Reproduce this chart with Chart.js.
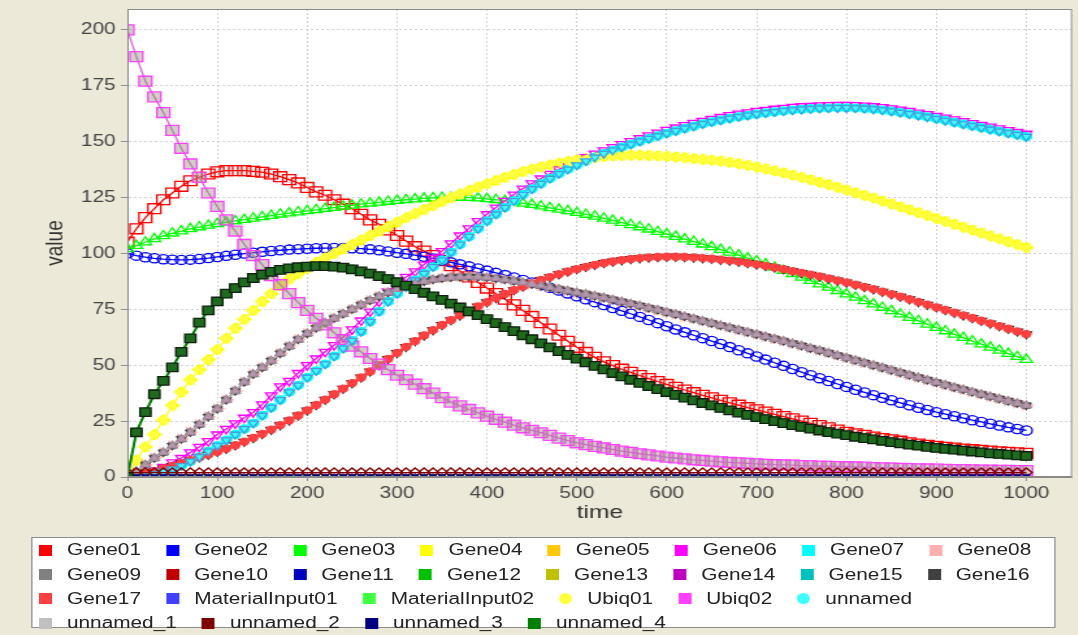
<!DOCTYPE html>
<html>
<head>
<meta charset="utf-8">
<script src="https://cdn.jsdelivr.net/npm/chart.js@4.4.0/dist/chart.umd.min.js"></script>
<style>
html, body { margin: 0; padding: 0; background: #ECE9D8; overflow: hidden; }
#stage { position: absolute; left: 0; top: 0; width: 833px; height: 635px; transform: scaleX(1.3); transform-origin: 0 0; }
#chart { position: absolute; left: 0; top: 0; }
#legend { position: absolute; left: 24px; top: 537px; width: 788px; height: 91px; box-sizing: border-box;
  background: #fff; border: 1px solid #8c8c8c; padding: 0 0 0 5px;
  display: flex; flex-wrap: wrap; align-content: flex-start; column-gap: 19.4px;
  font: 16px "Liberation Sans", Arial, sans-serif; color: #222; }
.item { display: flex; align-items: center; height: 24.4px; white-space: nowrap; }
.sw { width: 10px; height: 11px; margin-right: 11.5px; }
.sw.round { border-radius: 50%; }
</style>
</head>
<body>
<div id="stage">
  <canvas id="chart" width="833" height="530"></canvas>
  <div id="legend"></div>
</div>
<script>
// time points (every 10 units)
var time = [0,10,20,30,40,50,60,70,80,90,
  100,110,120,130,140,150,160,170,180,190,
  200,210,220,230,240,250,260,270,280,290,
  300,310,320,330,340,350,360,370,380,390,
  400,410,420,430,440,450,460,470,480,490,
  500,510,520,530,540,550,560,570,580,590,
  600,610,620,630,640,650,660,670,680,690,
  700,710,720,730,740,750,760,770,780,790,
  800,810,820,830,840,850,860,870,880,890,
  900,910,920,930,940,950,960,970,980,990,1000];

var gene01 = [105,111,116,120,124,127,130,132.5,134,135.5,
  136.5,137,137,137,136.7,136.3,135.5,134.3,133,131.5,
  129.5,127.5,126,124,122,120,117.5,115,113,110.5,
  108,105.5,103,101,99,96.8,94.5,92,89.5,87,
  84.5,82,79.5,77,74.5,71.8,69,66.2,63.4,60.7,
  58,55.7,53.5,51.5,49.8,48.2,46.8,45.4,44,42.7,
  41.4,40.1,38.9,37.7,36.5,35.4,34.3,33.2,32.1,31,
  30,29,28,27,26,25,24,23,22,21,
  20,19.3,18.6,17.9,17.2,16.6,16,15.3,14.7,14.2,
  13.7,13.3,12.9,12.5,12.2,11.9,11.6,11.3,11,10.8,10.6];

var gene02 = [100,99,98.3,97.8,97.4,97.2,97.1,97.2,97.5,97.9,
  98.4,98.9,99.4,99.9,100.3,100.7,101.1,101.4,101.7,101.9,
  102.1,102.3,102.4,102.4,102.4,102.3,102.1,101.8,101.4,100.9,
  100.3,99.8,99.2,98.5,97.7,96.9,96,95.1,94.2,93.3,
  92.3,91.3,90.3,89.2,88.1,87,85.8,84.6,83.4,82.1,
  80.8,79.5,78.2,76.9,75.6,74.3,73,71.6,70.2,68.8,
  67.4,66,64.7,63.4,62.1,60.8,59.5,58.1,56.7,55.3,
  53.9,52.5,51.1,49.7,48.3,46.9,45.5,44.2,42.9,41.6,
  40.3,39,37.8,36.6,35.4,34.3,33.2,32.1,31,30,
  29,28.1,27.2,26.3,25.4,24.6,23.8,23,22.2,21.5,20.8];

var gene03 = [102,103.5,105,106.5,107.8,109,110,111,111.8,112.5,
  113.2,113.9,114.5,115.1,115.7,116.3,116.9,117.5,118,118.5,
  119,119.5,120,120.5,121,121.5,122,122.4,122.8,123.2,
  123.6,124,124.3,124.6,124.8,125,125,125,124.9,124.7,
  124.4,124,123.5,123,122.4,121.8,121.1,120.4,119.7,119,
  118.2,117.4,116.6,115.7,114.8,113.8,112.8,111.8,110.8,109.7,
  108.6,107.5,106.4,105.3,104.1,102.9,101.7,100.5,99.2,97.9,
  96.6,95.2,93.8,92.3,90.8,89.3,87.8,86.3,84.8,83.3,
  81.8,80.3,78.8,77.3,75.8,74.3,72.8,71.3,69.8,68.3,
  66.8,65.3,63.8,62.3,60.8,59.4,58,56.6,55.2,53.8,52.5];

// Gene04 / Ubiq01 (thick yellow band)
var yellowCurve = [0,7.5,13.5,19,25.5,32,38,43.5,48,52.5,
  57,62,66.5,70.5,74.5,78.5,82,85.5,88.5,91,
  93.5,96,98,100,102,104,106,108,110,112,
  114,116,117.8,119.6,121.4,123.2,125,126.6,128.2,129.7,
  131.2,132.6,134,135.3,136.6,137.7,138.7,139.6,140.4,141.1,
  141.8,142.4,142.9,143.3,143.6,143.8,143.9,143.9,143.8,143.6,
  143.4,143.1,142.8,142.4,142,141.7,141.3,140.7,140.1,139.4,
  138.6,137.8,136.9,136,135,134,132.9,131.8,130.7,129.5,
  128.3,127.1,125.9,124.7,123.4,122.1,120.8,119.5,118.2,116.9,
  115.6,114.3,113,111.7,110.4,109.1,107.8,106.5,105.2,103.9,102.6];

// Gene06
var magentaCurve = [0,0.5,1.5,3,4.5,6.5,8.5,11,13.5,16,
  19,21.5,24,26.5,29,32.5,36.5,40.5,43,46.5,
  50,53,56,59,62.5,66,70,74,78.5,83,
  86.5,89.5,92,95,98,101,104.5,108,111.2,114.4,
  117.5,120.5,123.5,126.3,129,131.3,133.5,135.6,137.6,139.5,
  141.3,143,144.6,146.1,147.5,148.9,150.2,151.5,152.8,154,
  155.2,156.3,157.4,158.4,159.3,160.2,161,161.8,162.5,163.1,
  163.7,164.2,164.7,165.1,165.5,165.8,166,166.2,166.3,166.4,
  166.4,166.3,166.1,165.8,165.4,164.9,164.3,163.7,163,162.3,
  161.5,160.7,159.9,159.1,158.3,157.5,156.7,155.9,155.1,154.3,153.5];

// Gene07 / unnamed
var cyanCurve = [0,0.2,0.7,1.5,2.5,3.5,5,7,9,11.5,
  14,16.5,19,21.5,24,27.5,31,34.5,38,41,
  44.5,47.5,50.5,54,57.5,61,65,69.5,74,78.5,
  82,85,88,91,94,97,100.5,104,107.5,111,
  114.5,117.5,120.5,123.5,126.3,128.8,131.2,133.5,135.6,137.6,
  139.5,141.3,143,144.6,146.1,147.5,148.8,150.1,151.3,152.5,
  153.7,154.8,155.9,156.9,157.9,158.8,159.6,160.4,161.1,161.7,
  162.3,162.8,163.3,163.7,164.1,164.4,164.7,164.9,165,165.1,
  165.1,165,164.8,164.5,164.1,163.6,163,162.4,161.7,161,
  160.2,159.4,158.6,157.8,157,156.2,155.4,154.6,153.8,153,152.2];

// Gene08 / Gene09 / Gene16 / unnamed_1
var grayCurve = [0,2.5,5.5,8.5,11,14,17,20,23.5,27,
  30.5,34.5,38.5,42.5,46,49,52,55.3,58.5,61.5,
  64.2,66.7,69,71,73,75,77,79,80.8,82.5,
  84,85.3,86.5,87.5,88.3,88.9,89.3,89.5,89.6,89.5,
  89.2,88.8,88.3,87.7,87,86.3,85.6,84.8,84,83.3,
  82.5,81.8,81,80.2,79.3,78.4,77.5,76.6,75.6,74.7,
  73.7,72.8,71.8,70.8,69.8,68.8,67.8,66.8,65.8,64.8,
  63.8,62.8,61.8,60.8,59.7,58.7,57.6,56.6,55.5,54.4,
  53.3,52.2,51.1,50,48.9,47.8,46.7,45.6,44.5,43.4,
  42.3,41.2,40.1,39.1,38,37,36,35,34,33,32];

// Gene10 / Gene17
var redBrownCurve = [0,0.5,1.5,2.5,3.8,5,6.2,7.5,8.8,10,
  11.3,12.7,14.2,15.8,17.5,19.3,21.2,23.2,25.3,27.5,
  29.8,32.2,34.6,37,39.5,42,44.5,47.2,50,52.8,
  55.5,58.2,60.8,63.3,65.7,68,70.2,72.3,74.3,76.3,
  78.2,80.1,81.9,83.6,85.2,86.7,88.1,89.4,90.7,91.9,
  93,94,94.9,95.7,96.4,97,97.5,97.9,98.2,98.4,
  98.5,98.5,98.4,98.2,97.9,97.6,97.2,96.8,96.3,95.7,
  95.1,94.4,93.7,92.9,92.1,91.3,90.5,89.7,88.8,87.9,
  87,86,85,84,82.9,81.8,80.7,79.5,78.3,77.1,
  75.9,74.7,73.5,72.3,71.1,69.9,68.7,67.5,66.3,65.1,63.9];

var ubiq02 = [200,188,177,170,163,155,147,140,134,127,
  121,115,110,104,99,95,90,86,82,78,
  74.5,71,68,64.5,61.5,58.5,56,53,50.5,48,
  45.5,43.5,41.5,39.5,37.5,35.5,33.5,31.8,30.2,28.7,
  27.2,25.8,24.5,23.2,22,20.9,19.8,18.6,17.4,16.3,
  15.3,14.5,13.7,13,12.3,11.6,11,10.4,9.9,9.4,
  8.9,8.5,8.1,7.7,7.4,7.1,6.8,6.5,6.3,6.1,
  5.9,5.7,5.5,5.4,5.3,5.1,5,4.9,4.8,4.7,
  4.6,4.5,4.4,4.2,4.1,4,3.9,3.8,3.7,3.6,
  3.5,3.4,3.3,3.3,3.2,3.1,3.1,3,3,2.9,2.9];

// Gene12 / unnamed_4
var darkGreenCurve = [0,20,29,37,43,49,56,62,69,74.5,
  78.5,82,84.5,87,89,90.5,91.7,92.6,93.3,93.8,
  94.1,94.3,94.3,94.1,93.6,92.9,92,91,89.8,88.5,
  87.1,85.6,84,82.4,80.8,79.2,77.5,75.8,74.1,72.4,
  70.6,68.8,67,65.2,63.4,61.6,59.8,58,56.3,54.6,
  52.9,51.3,49.7,48.1,46.5,45,43.5,42.1,40.7,39.3,
  38,36.7,35.5,34.3,33.1,32,30.9,29.8,28.8,27.8,
  26.8,25.9,25,24.1,23.2,22.4,21.6,20.8,20.1,19.4,
  18.7,18,17.4,16.8,16.2,15.6,15,14.5,14,13.5,
  13,12.6,12.2,11.8,11.4,11,10.6,10.3,10,9.7,9.4];

// unnamed_2, flat just above the axis
var lowFlat = [2,2,2,2,2,2,2,2,2,2, 2,2,2,2,2,2,2,2,2,2, 2,2,2,2,2,2,2,2,2,2,
  2,2,2,2,2,2,2,2,2,2, 2,2,2,2,2,2,2,2,2,2, 2,2,2,2,2,2,2,2,2,2,
  2,2,2,2,2,2,2,2,2,2, 2,2,2,2,2,2,2,2,2,2, 2,2,2,2,2,2,2,2,2,2,
  2,2,2,2,2,2,2,2,2,2, 2];

// series that stay at zero
var zeroFlat = [0,0,0,0,0,0,0,0,0,0, 0,0,0,0,0,0,0,0,0,0, 0,0,0,0,0,0,0,0,0,0,
  0,0,0,0,0,0,0,0,0,0, 0,0,0,0,0,0,0,0,0,0, 0,0,0,0,0,0,0,0,0,0,
  0,0,0,0,0,0,0,0,0,0, 0,0,0,0,0,0,0,0,0,0, 0,0,0,0,0,0,0,0,0,0,
  0,0,0,0,0,0,0,0,0,0, 0];

var FONT = '"Liberation Sans", Arial, sans-serif';
var HOLLOW = 'rgba(255,255,255,0)';

function series(label, values, color, extra) {
  var ds = {
    label: label,
    data: values.map(function (v, i) { return { x: time[i], y: v }; }),
    borderColor: color,
    backgroundColor: color,
    borderWidth: 1.3,
    pointRadius: 4,
    pointBorderWidth: 1.3,
    pointBorderColor: color,
    pointBackgroundColor: color,
    pointStyle: 'circle',
    tension: 0
  };
  for (var k in extra) ds[k] = extra[k];
  return ds;
}

var datasets = [
  series('Gene01', gene01, '#FF0000', { pointStyle: 'rect', pointRadius: 7, pointBackgroundColor: HOLLOW }),
  series('Gene02', gene02, '#0000FF', { pointRadius: 4.6, pointBackgroundColor: HOLLOW }),
  series('Gene03', gene03, '#00FF00', { pointStyle: 'triangle', pointRadius: 5.5, pointBackgroundColor: HOLLOW }),
  series('Gene04', yellowCurve, '#FFFF00', { pointStyle: 'rectRot', pointRadius: 5 }),
  series('Gene05', zeroFlat, '#FFC800', { pointStyle: 'rect', pointRadius: 3 }),
  series('Gene06', magentaCurve, '#FF00FF', { pointStyle: 'triangle', pointRotation: 180, pointRadius: 5, pointBackgroundColor: HOLLOW }),
  series('Gene07', cyanCurve, '#00FFFF', { pointRadius: 4 }),
  series('Gene08', grayCurve, '#FFAFAF', { pointStyle: 'triangle', pointRotation: 90, pointRadius: 5 }),
  series('Gene09', grayCurve, '#808080', { pointStyle: 'rect', pointRadius: 4 }),
  series('Gene10', redBrownCurve, '#C00000', { pointStyle: 'triangle', pointRotation: 180, pointRadius: 4.5, pointBorderColor: '#402020' }),
  series('Gene11', zeroFlat, '#0000C0', { pointStyle: 'rect', pointRadius: 3 }),
  series('Gene12', darkGreenCurve, '#00C000', { pointRadius: 4 }),
  series('Gene13', zeroFlat, '#C0C000', { pointStyle: 'triangle', pointRadius: 3 }),
  series('Gene14', zeroFlat, '#C000C0', { pointStyle: 'rectRot', pointRadius: 3 }),
  series('Gene15', zeroFlat, '#00C0C0', { pointStyle: 'rect', pointRadius: 3 }),
  series('Gene16', grayCurve, '#404040', { pointStyle: 'triangle', pointRotation: 180, pointRadius: 4 }),
  series('Gene17', redBrownCurve, '#FF4040', { pointRadius: 3.5, borderWidth: 2.5 }),
  series('MaterialInput01', zeroFlat, '#4040FF', { pointStyle: 'triangle', pointRotation: 90, pointRadius: 3 }),
  series('MaterialInput02', zeroFlat, '#40FF40', { pointStyle: 'rect', pointRadius: 3 }),
  series('Ubiq01', yellowCurve, '#FFFF40', { pointStyle: 'triangle', pointRotation: -90, pointRadius: 5 }),
  series('Ubiq02', ubiq02, '#FF40FF', { pointStyle: 'rect', pointRadius: 7, pointBackgroundColor: 'rgba(150,150,125,0.45)', borderColor: '#E060E0' }),
  series('unnamed', cyanCurve, '#40FFFF', { pointStyle: 'triangle', pointRotation: 180, pointRadius: 4.5, pointBorderColor: '#40A0E0' }),
  series('unnamed_1', grayCurve, '#C0C0C0', { pointStyle: 'triangle', pointRadius: 4.5, pointBackgroundColor: '#B898B0', pointBorderColor: '#A08898' }),
  series('unnamed_2', lowFlat, '#800000', { pointStyle: 'rectRot', pointRadius: 4.5, pointBackgroundColor: HOLLOW }),
  series('unnamed_3', zeroFlat, '#000080', { pointStyle: 'rect', pointRadius: 3 }),
  series('unnamed_4', darkGreenCurve, '#008000', { pointStyle: 'rect', pointRadius: 6, pointBackgroundColor: '#1E6B1E', pointBorderColor: '#102010', borderWidth: 2 })
];
// later series are painted over earlier ones
datasets.forEach(function (ds, i) { ds.order = 100 - i; });

var plotFrame = {
  id: 'plotFrame',
  beforeDraw: function (chart) {
    var a = chart.chartArea, ctx = chart.ctx;
    ctx.save();
    ctx.fillStyle = '#ffffff';
    ctx.fillRect(a.left, a.top, a.right - a.left, a.bottom - a.top);
    ctx.restore();
  },
  afterDraw: function (chart) {
    var a = chart.chartArea, ctx = chart.ctx;
    ctx.save();
    ctx.strokeStyle = '#8a8a8a';
    ctx.lineWidth = 1;
    ctx.strokeRect(a.left + 0.5, a.top + 0.5, a.right - a.left - 1, a.bottom - a.top - 1);
    ctx.restore();
  }
};

var ctx = document.getElementById('chart').getContext('2d');
var chart = new Chart(ctx, {
  type: 'line',
  data: { datasets: datasets },
  options: {
    responsive: false,
    animation: false,
    events: [],
    layout: { padding: { top: 9, right: 0, left: 0, bottom: 0 } },
    plugins: { legend: { display: false }, tooltip: { enabled: false } },
    scales: {
      x: {
        type: 'linear', min: 0, max: 1051,
        afterFit: function (s) { s.height = 53; s.paddingLeft = 0; s.paddingRight = 0; },
        ticks: { stepSize: 100, includeBounds: false, maxRotation: 0, autoSkip: false, padding: 3,
          callback: function (v) { return String(v); },
          font: { family: FONT, size: 16 }, color: '#444' },
        grid: { color: '#d2d2d2', tickColor: '#909090', tickLength: 4 },
        border: { color: '#8a8a8a', dash: [2, 2] },
        title: { display: true, text: 'time', color: '#333', font: { family: FONT, size: 19 }, padding: { top: 0, bottom: 6 } }
      },
      y: {
        min: 0, max: 209.3,
        afterFit: function (s) { s.width = 98; s.paddingTop = 0; s.paddingBottom = 0; },
        ticks: { stepSize: 25, includeBounds: false, padding: 4,
          callback: function (v) { return String(v); },
          font: { family: FONT, size: 16 }, color: '#444' },
        grid: { color: '#d2d2d2', tickColor: '#909090', tickLength: 5 },
        border: { color: '#8a8a8a', dash: [2, 2] },
        title: { display: true, text: 'value', color: '#333', font: { family: FONT, size: 19 }, padding: { top: 31, bottom: 0 } }
      }
    }
  },
  plugins: [plotFrame]
});

// legend box below the plot, flowing left to right like the original
var legend = document.getElementById('legend');
var roundKeys = { 'Ubiq01': true, 'unnamed': true };
datasets.forEach(function (ds) {
  var item = document.createElement('div');
  item.className = 'item';
  var sw = document.createElement('span');
  sw.className = 'sw' + (roundKeys[ds.label] ? ' round' : '');
  sw.style.background = ds.backgroundColor;
  var txt = document.createElement('span');
  txt.textContent = ds.label;
  item.appendChild(sw);
  item.appendChild(txt);
  legend.appendChild(item);
});
</script>
</body>
</html>
